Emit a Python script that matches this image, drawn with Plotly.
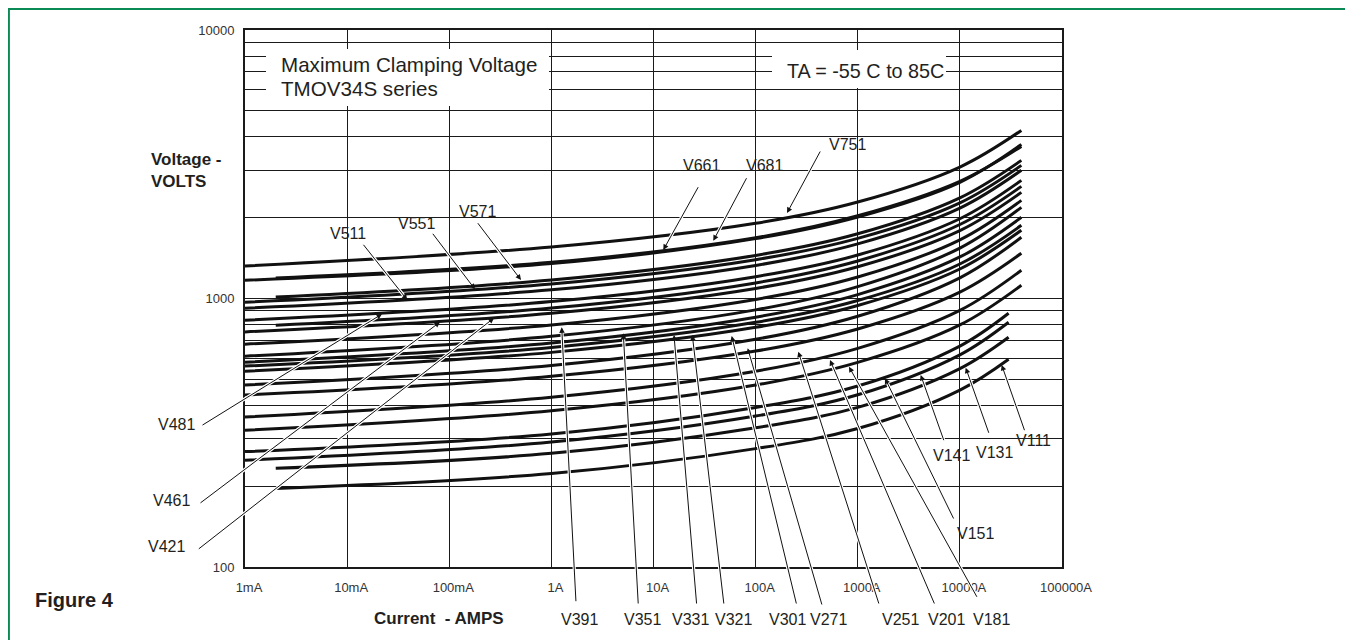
import plotly.graph_objects as go

# ---------------- data ----------------
# current points (A) for each family of curves
I_1MA_40K = [0.001, 1, 100, 1000, 10000, 40000]
I_2MA_40K = [0.002, 1, 100, 1000, 10000, 40000]
I_1MA_30K = [0.001, 1, 100, 1000, 10000, 30000]
I_2MA_30K = [0.002, 1, 100, 1000, 10000, 30000]

# clamping voltage (V) at those currents
V751 = [1322, 1555, 1906, 2287, 3087, 4227]
V681 = [1169, 1349, 1671, 2011, 2707, 3749]
V661 = [1192, 1364, 1683, 2032, 2731, 3686]
V571 = [1013, 1172, 1447, 1742, 2371, 3269]
V551 = [968, 1133, 1395, 1674, 2271, 3132]
V511 = [920, 1077, 1328, 1597, 2170, 3001]
V481 = [830, 974, 1206, 1452, 1982, 2754]
V461 = [795, 921, 1143, 1380, 1886, 2616]
V421 = [751, 881, 1090, 1313, 1790, 2485]
V391 = [676, 797, 992, 1202, 1654, 2320]
V351 = [610, 723, 907, 1107, 1541, 2185]
V331 = [579, 683, 852, 1034, 1428, 2006]
V321 = [560, 657, 815, 983, 1344, 1873]
V301 = [536, 630, 781, 942, 1288, 1795]
V271 = [476, 563, 705, 859, 1194, 1690]
V251 = [437, 513, 637, 770, 1056, 1474]
V201 = [362, 429, 536, 652, 903, 1274]
V181 = [323, 382, 476, 578, 797, 1120]
V151 = [269, 313, 393, 472, 665, 881]
V141 = [250, 292, 365, 438, 617, 816]
V131 = [233, 265, 330, 393, 548, 717]
V111 = [196, 223, 276, 328, 456, 594]

curves = [
    ("V751", I_1MA_40K, V751), ("V681", I_1MA_40K, V681), ("V661", I_2MA_40K, V661),
    ("V571", I_2MA_40K, V571), ("V551", I_1MA_40K, V551), ("V511", I_1MA_40K, V511),
    ("V481", I_1MA_40K, V481), ("V461", I_2MA_40K, V461), ("V421", I_1MA_40K, V421),
    ("V391", I_1MA_40K, V391), ("V351", I_1MA_40K, V351), ("V331", I_1MA_40K, V331),
    ("V321", I_1MA_40K, V321), ("V301", I_1MA_40K, V301), ("V271", I_1MA_40K, V271),
    ("V251", I_1MA_40K, V251), ("V201", I_1MA_40K, V201), ("V181", I_1MA_40K, V181),
    ("V151", I_1MA_30K, V151), ("V141", I_1MA_30K, V141), ("V131", I_2MA_30K, V131),
    ("V111", I_2MA_30K, V111),
]

x_tickvals = [1e-3, 1e-2, 1e-1, 1, 10, 100, 1000, 10000, 100000]
x_ticktext = ["1mA", "10mA", "100mA", "1A", "10A", "100A", "1000A", "10000A", "100000A"]
y_tickvals = [m * d for d in (100, 1000) for m in range(1, 10)] + [10000]
y_ticktext = ["100" if v == 100 else "1000" if v == 1000 else "10000" if v == 10000 else "" for v in y_tickvals]

# ---------------- layout helpers ----------------
# the page body adds an 8px offset at top/left
OFF = 8
W, H = 1353 - OFF, 640 - OFF
# plot-area edges in window pixels (as in the reference)
L, R, T, B = 245, 1062, 30, 567


def px(x):
    return (x - L) / (R - L)


def py(y):
    return (B - y) / (B - T)


FONT = "Liberation Sans, Arial, Helvetica, sans-serif"
INK = "#231f20"

fig = go.Figure()
for name, cur, volt in curves:
    fig.add_trace(go.Scatter(x=cur, y=volt, mode="lines", name=name,
                             line=dict(color="#111111", width=3, shape="spline"),
                             hoverinfo="name+x+y", showlegend=False))

annotations = []

# leader arrows: tail(px) -> tip(px)
arrows = [((821, 150), (787, 213)), ((747.3, 176.7), (713.3, 240.7)), ((699, 185.7), (663.3, 250)),
          ((476.7, 221.7), (521, 280)), ((431.7, 232.3), (475, 289.3)), ((362.3, 243.3), (407.3, 300)),
          ((201, 426), (382, 314)), ((199, 504), (440, 322)), ((197.3, 550), (494, 318)),
          ((576, 602.7), (561.7, 327.3)), ((638.3, 605), (623.3, 333.3)), ((696.7, 605), (674, 335)),
          ((724, 605), (692.3, 335)), ((796.7, 605), (731.7, 336)), ((822.3, 606), (747.7, 348.3)),
          ((879.3, 605), (798.3, 351.7)), ((935, 605), (830, 360)), ((977.7, 598.3), (849, 366.7)),
          ((954.3, 520), (885, 378.3)), ((944.3, 441.7), (920.7, 375)), ((989.3, 434.3), (965.7, 367.7)),
          ((1025, 431.7), (1001.7, 365))]
# white halo first, then the black leader on top
for (tx, ty), (hx, hy) in arrows:
    annotations.append(dict(text="", x=px(hx), y=py(hy), xref="paper", yref="paper",
                            ax=tx - hx, ay=ty - hy, showarrow=True, arrowhead=0,
                            arrowwidth=3.2, arrowcolor="white", standoff=6, startstandoff=0))
for (tx, ty), (hx, hy) in arrows:
    annotations.append(dict(text="", x=px(hx), y=py(hy), xref="paper", yref="paper",
                            ax=tx - hx, ay=ty - hy, showarrow=True, arrowhead=2, arrowsize=1.1,
                            arrowwidth=1, arrowcolor="#111111", standoff=0, startstandoff=0))

# curve labels (text, centre px)
labels = [("V751", 847.7, 144), ("V681", 764.7, 165), ("V661", 701, 165), ("V571", 477.3, 211),
          ("V551", 416.5, 223.3), ("V511", 347.8, 233.3), ("V481", 176, 424), ("V461", 171, 500),
          ("V421", 166, 546.7), ("V391", 579.7, 619), ("V351", 642, 619), ("V331", 690.3, 619),
          ("V321", 733, 619), ("V301", 787.3, 619), ("V271", 828.7, 619), ("V251", 900, 619),
          ("V201", 946, 619), ("V181", 991, 619), ("V151", 975, 533), ("V141", 951, 455),
          ("V131", 994, 452.7), ("V111", 1033, 440.7)]
for t, x, y in labels:
    annotations.append(dict(text=t, x=px(x), y=py(y), xref="paper", yref="paper",
                            xanchor="center", yanchor="middle", showarrow=False,
                            font=dict(family=FONT, size=16, color=INK)))

# boxed titles and axis titles
annotations += [
    dict(text="Maximum Clamping Voltage", x=px(279), y=py(65), xref="paper", yref="paper",
         xanchor="left", yanchor="middle", showarrow=False, font=dict(family=FONT, size=20.6, color=INK)),
    dict(text="TMOV34S series", x=px(279), y=py(88), xref="paper", yref="paper",
         xanchor="left", yanchor="middle", showarrow=False, font=dict(family=FONT, size=20.6, color=INK)),
    dict(text="TA = -55 C to 85C", x=px(785), y=py(71), xref="paper", yref="paper",
         xanchor="left", yanchor="middle", showarrow=False, font=dict(family=FONT, size=19.8, color=INK)),
    dict(text="<b>Voltage -</b>", x=px(149), y=py(160), xref="paper", yref="paper",
         xanchor="left", yanchor="middle", showarrow=False, font=dict(family=FONT, size=17, color=INK)),
    dict(text="<b>VOLTS</b>", x=px(149), y=py(181), xref="paper", yref="paper",
         xanchor="left", yanchor="middle", showarrow=False, font=dict(family=FONT, size=17, color=INK)),
    dict(text="<b>Current  - AMPS</b>", x=px(372), y=py(618), xref="paper", yref="paper",
         xanchor="left", yanchor="middle", showarrow=False, font=dict(family=FONT, size=17, color=INK)),
    dict(text="<b>Figure 4</b>", x=px(33), y=py(600), xref="paper", yref="paper",
         xanchor="left", yanchor="middle", showarrow=False, font=dict(family=FONT, size=20, color=INK)),
]

shapes = [
    # white boxes behind the titles (interrupt the grid)
    dict(type="rect", xref="paper", yref="paper", x0=px(266), x1=px(549), y0=py(106), y1=py(49),
         fillcolor="white", line=dict(width=0), layer="above"),
    dict(type="rect", xref="paper", yref="paper", x0=px(772), x1=px(946), y0=py(88), y1=py(50),
         fillcolor="white", line=dict(width=0), layer="above"),
    # green page frame
    dict(type="rect", xref="paper", yref="paper", x0=px(8.9), x1=px(1348.5), y0=py(700), y1=py(8.9),
         fillcolor="rgba(0,0,0,0)", line=dict(color="#0b8a55", width=2), layer="below"),
]

fig.update_layout(
    width=W, height=H,
    margin=dict(l=L - OFF, r=W - (R - OFF), t=T - OFF, b=H - (B - OFF), pad=0),
    paper_bgcolor="white", plot_bgcolor="white",
    font=dict(family=FONT, color="#333333"),
    annotations=annotations, shapes=shapes,
    xaxis=dict(type="log", range=[-3, 5], tickvals=x_tickvals, ticktext=x_ticktext,
               showgrid=True, gridcolor="#1a1a1a", gridwidth=1.3, ticks="", zeroline=False,
               showline=True, linecolor="#1a1a1a", linewidth=2, mirror=True,
               tickfont=dict(family=FONT, size=13, color="#333333"),
               ticklabelstandoff=7, ticklabelshift=4),
    yaxis=dict(type="log", range=[2, 4], tickvals=y_tickvals, ticktext=y_ticktext,
               showgrid=True, gridcolor="#1a1a1a", gridwidth=1.3, ticks="", zeroline=False,
               showline=True, linecolor="#1a1a1a", linewidth=2, mirror=True,
               tickfont=dict(family=FONT, size=13, color="#333333"),
               ticklabelstandoff=6),
)

fig.write_html("out.html")
